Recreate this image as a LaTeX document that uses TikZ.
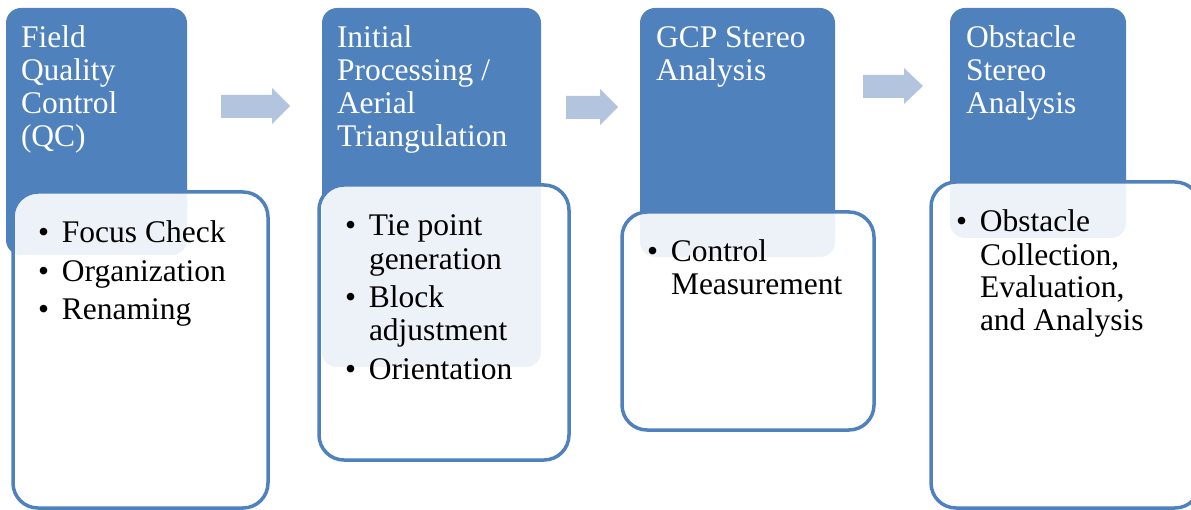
\documentclass[tikz,border=0pt]{standalone}
\usepackage{fontspec}
\setmainfont{Liberation Serif}
\usetikzlibrary{positioning}

\definecolor{stageblue}{HTML}{4F81BD}
\definecolor{flowblue}{RGB}{179,196,222}
\newcommand{\bul}{\makebox[24pt][l]{\textbullet}}
\newcommand{\bulcont}{\hspace*{24pt}}

\begin{document}
\begin{tikzpicture}[
        x=1pt, y=-1pt,
        every node/.style={inner sep=0pt, outer sep=0pt, font=\fontsize{31.5}{33}\selectfont},
        stagebox/.style={fill=stageblue, rounded corners=15pt},
        taskbox/.style={draw=stageblue, line width=3.5pt, fill=white, fill opacity=0.9,
                        rounded corners=25pt},
        stagetext/.style={anchor=base west, align=left, text=white},
        tasktext/.style={anchor=base west, align=left, text=black},
        flow/.style={fill=flowblue},
    ]
        \useasboundingbox (0,0) rectangle (1191,510);

        % stage headers (text placed by the baseline of its last line)
        \fill[stagebox] (6,8) rectangle (187,255);
        \fill[stagebox] (322,8) rectangle (541,367);
        \fill[stagebox] (640,8) rectangle (835,257);
        \fill[stagebox] (950,8) rectangle (1126,238);

        \node[stagetext] (qc) at (21,147) {Field\\Quality\\Control\\(QC)};
        \node[stagetext] (at) at (337,147) {Initial\\Processing /\\Aerial\\Triangulation};
        \node[stagetext] (gcp) at (656,81) {GCP Stereo\\Analysis};
        \node[stagetext] (obs) at (966,114) {Obstacle\\Stereo\\Analysis};

        % task boxes
        \path[taskbox] (13,192) rectangle (268,508);
        \path[taskbox] (319,185) rectangle (569,460);
        \path[taskbox] (622,212) rectangle (874,430);
        \path[taskbox] (931,182) rectangle (1200,508);

        \node[tasktext] (qctasks) at (38,320)
            {\bul Focus Check\\[5.5pt]\bul Organization\\[5.5pt]\bul Renaming};
        \node[tasktext] (attasks) at (345,379)
            {\bul Tie point\\\bulcont generation\\[5.5pt]\bul Block\\\bulcont adjustment\\[5.5pt]\bul Orientation};
        \node[tasktext] (gcptasks) at (647,295)
            {\bul Control\\\bulcont Measurement};
        \node[tasktext] (obstasks) at (956,331)
            {\bul Obstacle\\\bulcont Collection,\\\bulcont Evaluation,\\\bulcont and Analysis};

        % flow arrows
        \fill[flow] (221,95) -- (272,95) -- (272,88) -- (290,106) -- (272,124) -- (272,118) -- (221,118) -- cycle;
        \fill[flow] (566,96) -- (600,96) -- (600,89) -- (618,107) -- (600,125) -- (600,119) -- (566,119) -- cycle;
        \fill[flow] (863,75) -- (904,75) -- (904,68) -- (923,86) -- (904,104) -- (904,98) -- (863,98) -- cycle;
    \end{tikzpicture}
\end{document}
